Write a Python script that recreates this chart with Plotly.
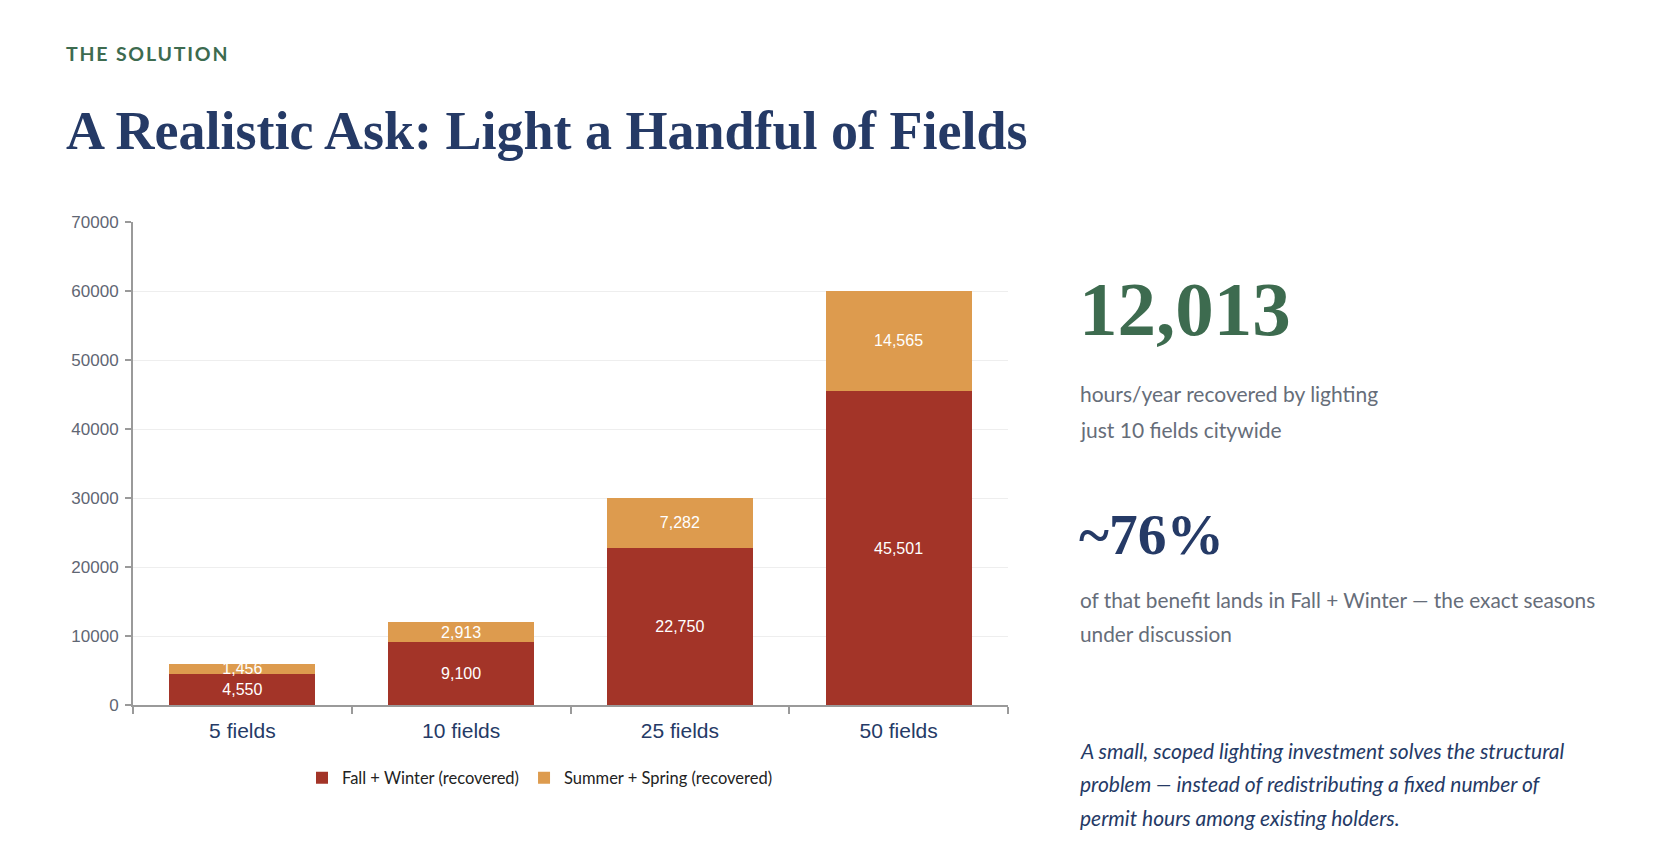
import plotly.graph_objects as go

# ---- data ----
categories = ["5 fields", "10 fields", "25 fields", "50 fields"]
fall_winter = [4550, 9100, 22750, 45501]
summer_spring = [1456, 2913, 7282, 14565]
series_names = ["Fall + Winter (recovered)", "Summer + Spring (recovered)"]
y_ticks = [0, 10000, 20000, 30000, 40000, 50000, 60000, 70000]

kicker = "THE SOLUTION"
title = "A Realistic Ask: Light a Handful of Fields"
stat1 = "12,013"
stat1_lines = ["hours/year recovered by lighting", "just 10 fields citywide"]
stat2 = "~76%"
stat2_lines = ["of that benefit lands in Fall + Winter \u2014 the exact seasons", "under discussion"]
note_lines = ["A small, scoped lighting investment solves the structural",
              "problem \u2014 instead of redistributing a fixed number of",
              "permit hours among existing holders."]

# ---- style ----
W, H = 1646, 840
OFF = 8  # default body margin of the page
RED = "#a33428"
ORANGE = "#dd9b4e"
NAVY = "#253a66"
GREEN = "#3d6b4f"
GRAY = "#666d79"


def px(X):
    return (X - OFF) / W


def py(Y):
    return 1 - (Y - OFF) / H


fig = go.Figure()
for vals, name, col in [(fall_winter, series_names[0], RED), (summer_spring, series_names[1], ORANGE)]:
    fig.add_trace(go.Bar(
        x=categories, y=vals, name=name,
        marker=dict(color=col, line=dict(width=0)),
        texttemplate="%{y:,}", textposition="inside", insidetextanchor="middle",
        constraintext="none", textangle=0,
        textfont=dict(family="Liberation Sans, Arial, sans-serif", size=16, color="white"),
        hoverinfo="skip",
    ))

fig.update_layout(
    width=W, height=H,
    margin=dict(l=0, r=0, t=0, b=0),
    paper_bgcolor="white", plot_bgcolor="white",
    barmode="stack", bargap=0.333,
    showlegend=True,
    legend=dict(orientation="h", x=px(540), xanchor="center", y=py(778), yanchor="middle",
                font=dict(family="Lato", size=16.5, color="#222222"),
                itemwidth=30, traceorder="normal"),
    xaxis=dict(domain=[px(133), px(1008)], showline=True, linecolor="#9a9a9a", linewidth=2,
               ticks="outside", tickson="boundaries", ticklen=7, tickcolor="#9a9a9a", tickwidth=2,
               tickfont=dict(family="Liberation Sans, Arial, sans-serif", size=21, color=NAVY),
               ticklabelstandoff=6, showgrid=False, fixedrange=True, automargin=False),
    yaxis=dict(domain=[py(705), py(222)], range=[0, 70000], tickvals=y_ticks, tickformat="d",
               showline=True, linecolor="#9a9a9a", linewidth=2,
               ticks="outside", ticklen=6, tickcolor="#9a9a9a", tickwidth=2,
               tickfont=dict(family="Liberation Sans, Arial, sans-serif", size=17, color="#5f6673"),
               ticklabelstandoff=3, automargin=False,
               showgrid=True, gridcolor="#eeeeee", gridwidth=1, zeroline=False, fixedrange=True),
)

ann = []


def add_text(text, X, Y, size, color, family="Lato", weight="normal", style="normal"):
    ann.append(dict(text=text, x=px(X), y=py(Y), xref="paper", yref="paper",
                    xanchor="left", yanchor="middle", showarrow=False,
                    font=dict(family=family, size=size, color=color, weight=weight, style=style)))


add_text('<span style="letter-spacing:1.8px">' + kicker + '</span>', 64, 53, 19.5, GREEN, weight="bold")
add_text(title, 64, 131, 54, NAVY, family="Liberation Serif, serif", weight="bold")
add_text(stat1, 1077, 309, 77, GREEN, family="Liberation Serif, serif", weight="bold")
for i, t in enumerate(stat1_lines):
    add_text(t, 1078, 394 + 35 * i, 21, GRAY)
add_text(stat2, 1077, 534, 57.5, NAVY, family="Liberation Serif, serif", weight="bold")
for i, t in enumerate(stat2_lines):
    add_text(t, 1078, 599.5 + 34.3 * i, 20.8, GRAY)
for i, t in enumerate(note_lines):
    add_text(t, 1078, 750.5 + 33.3 * i, 21, NAVY, style="italic")

fig.update_layout(annotations=ann)
fig.write_html("out.html")
